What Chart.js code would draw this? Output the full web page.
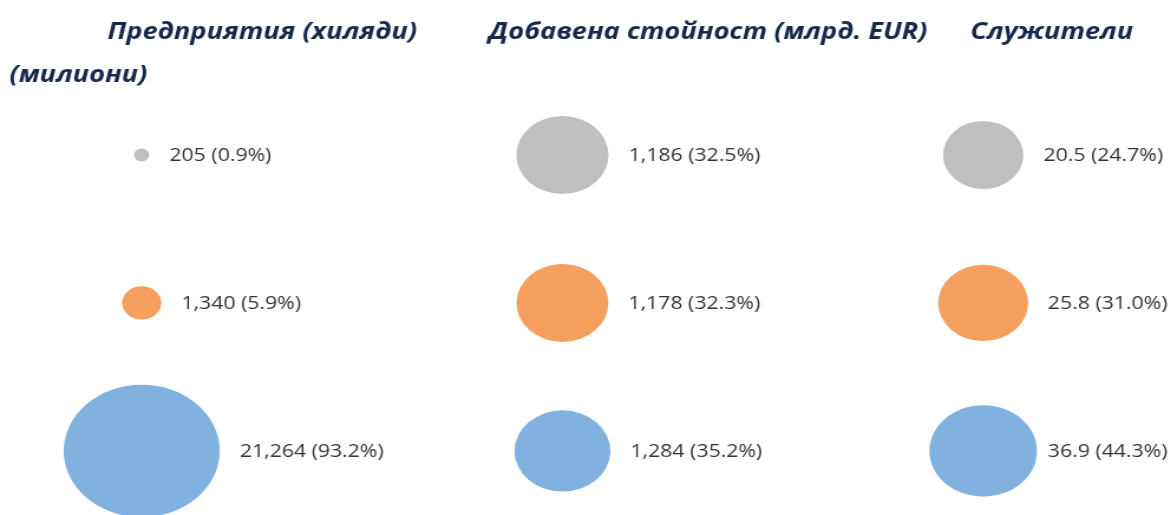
<!DOCTYPE html>
<html>
<head>
<meta charset="utf-8">
<script src="https://cdn.jsdelivr.net/npm/chart.js@4/dist/chart.umd.min.js"></script>
<style>
  html, body { margin: 0; padding: 0; background: #ffffff; overflow: hidden; }
  #wrap { position: absolute; left: 0; top: 0; width: 992px; height: 515px; transform: scaleX(1.1805); transform-origin: 0 0; }
</style>
</head>
<body>
<div id="wrap"><canvas id="c"></canvas></div>
<script>
// ---- data ----
const metrics = ['Предприятия (хиляди)', 'Добавена стойност (млрд. EUR)', 'Служители (милиони)'];
const sizeClasses = ['Средни предприятия', 'Малки предприятия', 'Микропредприятия'];
const enterprisesThousands = [205, 1340, 21264];
const enterprisesShare = [0.9, 5.9, 93.2];
const valueAddedBnEur = [1186, 1178, 1284];
const valueAddedShare = [32.5, 32.3, 35.2];
const employeesMillions = [20.5, 25.8, 36.9];
const employeesShare = [24.7, 31.0, 44.3];

// ---- build ----
const valuesByMetric = [enterprisesThousands, valueAddedBnEur, employeesMillions];
const sharesByMetric = [enterprisesShare, valueAddedShare, employeesShare];
const colors = ['#bfbfbf', '#f5a05e', '#80b1df'];
const SIZE_K = 6.85; // bubble radius per sqrt(percent)

const datasets = sizeClasses.map((name, g) => ({
  label: name,
  data: metrics.map((m, ci) => ({ x: ci, y: g, r: SIZE_K * Math.sqrt(sharesByMetric[ci][g]) })),
  backgroundColor: colors[g],
  borderWidth: 0,
  hoverBorderWidth: 0,
  clip: false
}));

const fmt = v => v.toLocaleString('en-US', { maximumFractionDigits: 1 });

const labelPlugin = {
  id: 'bubbleLabels',
  afterDatasetsDraw(chart) {
    const ctx = chart.ctx;
    ctx.save();
    ctx.font = '18px "Open Sans"';
    ctx.fillStyle = '#333333';
    ctx.textBaseline = 'middle';
    ctx.textAlign = 'left';
    chart.data.datasets.forEach((ds, g) => {
      const meta = chart.getDatasetMeta(g);
      meta.data.forEach((pt, ci) => {
        const text = fmt(valuesByMetric[ci][g]) + ' (' + sharesByMetric[ci][g].toFixed(1) + '%)';
        const w = ctx.measureText(text).width;
        let x = pt.x + pt.options.radius + 17;
        x = Math.min(x, chart.width - w - 3);
        ctx.fillText(text, x, pt.y + 1);
      });
    });
    ctx.restore();
  }
};

const headerPlugin = {
  id: 'headers',
  afterDraw(chart) {
    const ctx = chart.ctx;
    ctx.save();
    ctx.font = 'italic bold 23px "Open Sans"';
    ctx.fillStyle = '#16294a';
    ctx.textBaseline = 'alphabetic';
    ctx.textAlign = 'left';
    const third = metrics[2].split(' ');
    ctx.fillText(metrics[0], 91, 39);
    ctx.fillText(metrics[1], 414, 39);
    ctx.fillText(third[0], 822, 39);
    ctx.fillText(third.slice(1).join(' '), 8, 82);
    ctx.restore();
  }
};

new Chart(document.getElementById('c'), {
  type: 'bubble',
  data: { datasets },
  options: {
    responsive: true,
    maintainAspectRatio: false,
    animation: false,
    layout: { padding: 0 },
    plugins: { legend: { display: false }, tooltip: { enabled: false }, title: { display: false } },
    scales: {
      x: { type: 'linear', min: -0.1512, max: 2.261, display: false },
      y: { type: 'linear', reverse: true, min: -0.6007, max: 1.986, display: false }
    }
  },
  plugins: [labelPlugin, headerPlugin]
});
</script>
</body>
</html>
